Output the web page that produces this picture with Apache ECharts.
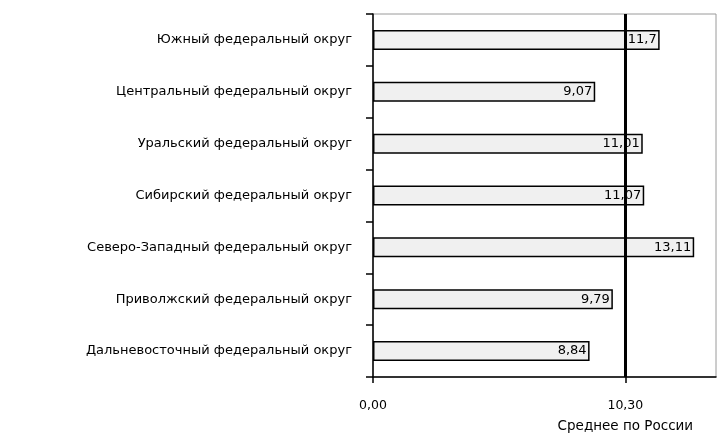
<!DOCTYPE html>
<html>
<head>
<meta charset="utf-8">
<script src="https://cdn.jsdelivr.net/npm/echarts@6/dist/echarts.min.js"></script>
<style>html,body{margin:0;padding:0;background:#fff;}#c{width:727px;height:436px;}</style>
</head>
<body>
<div id="c"></div>
<script>
const categories = [
  "Южный федеральный округ",
  "Центральный федеральный округ",
  "Уральский федеральный округ",
  "Сибирский федеральный округ",
  "Северо-Западный федеральный округ",
  "Приволжский федеральный округ",
  "Дальневосточный федеральный округ"
];
const values = [11.7, 9.07, 11.01, 11.07, 13.11, 9.79, 8.84];
const averageValue = 10.3;
const averageName = "Среднее по России";
const xTickValues = [0, 10.3];

const fmtBar = v => String(v).replace('.', ',');
const fmtAxis = v => Number(v).toFixed(2).replace('.', ',');

const chart = echarts.init(document.getElementById('c'), null, {renderer: 'canvas'});
chart.setOption({
  animation: false,
  backgroundColor: '#ffffff',
  grid: {
    left: 373, right: 11, top: 14, bottom: 59,
    show: true, borderColor: '#9a9a9a', borderWidth: 1, backgroundColor: 'transparent'
  },
  xAxis: {
    type: 'value',
    min: 0, max: 14,
    axisLine: {show: true, lineStyle: {color: '#000', width: 1.5}},
    axisTick: {show: true, length: 6, customValues: xTickValues, lineStyle: {color: '#000', width: 1.5}},
    axisLabel: {
      customValues: xTickValues, formatter: fmtAxis, margin: 22,
      color: '#000', fontFamily: 'DejaVu Sans, sans-serif', fontSize: 12.5
    },
    splitLine: {show: false}
  },
  yAxis: {
    type: 'category',
    data: categories,
    inverse: true,
    axisLine: {show: true, lineStyle: {color: '#000', width: 1.5}},
    axisTick: {show: true, length: 7, lineStyle: {color: '#000', width: 1.5}},
    axisLabel: {
      margin: 21, color: '#000', fontFamily: 'DejaVu Sans, sans-serif', fontSize: 13
    },
    splitLine: {show: false}
  },
  series: [{
    type: 'bar',
    data: values,
    barWidth: 20,
    itemStyle: {color: '#f0f0f0', borderColor: '#000', borderWidth: 1.5},
    label: {
      show: true, position: 'insideRight', distance: 3, formatter: p => fmtBar(p.value),
      color: '#000', fontFamily: 'DejaVu Sans, sans-serif', fontSize: 13
    },
    markLine: {
      silent: true,
      symbol: ['none', 'none'],
      lineStyle: {color: '#000', width: 3, type: 'solid'},
      label: {
        show: true, position: 'end', distance: 42, formatter: averageName,
        color: '#000', fontFamily: 'DejaVu Sans, sans-serif', fontSize: 13.5
      },
      data: [{xAxis: averageValue}]
    },
    z: 2
  }]
});
</script>
</body>
</html>
